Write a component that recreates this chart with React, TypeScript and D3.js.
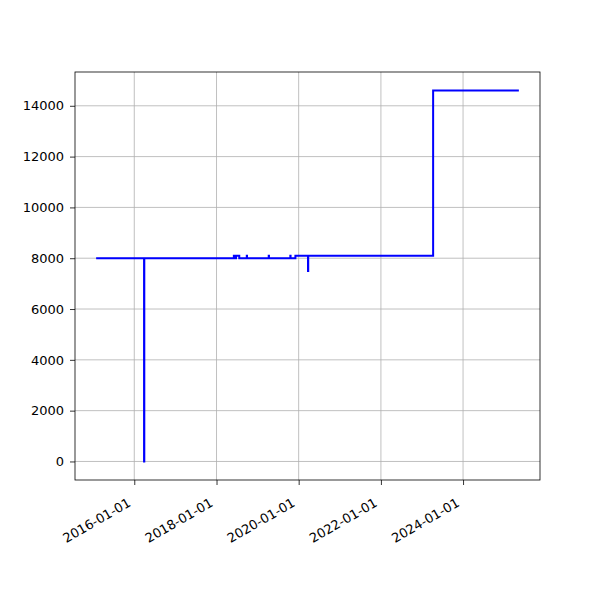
import React, { useEffect, useRef } from 'react';
import * as d3 from 'd3';

// step series (value holds until the next date)
const stepDates = [
  '2015-01-27', '2016-03-28', '2016-03-30',
  '2018-06-04', '2018-06-20', '2018-06-23', '2018-07-22',
  '2018-09-27', '2018-09-29', '2019-04-10', '2019-04-12',
  '2019-10-19', '2019-10-21', '2019-12-03',
  '2020-03-24', '2020-03-26', '2023-04-10', '2025-05-11'
];
const stepValues = [
  8000, 0, 8000,
  8100, 8000, 8100, 8000,
  8100, 8000, 8100, 8000,
  8100, 8000, 8100,
  7500, 8100, 14600, 14600
];
const xTickYears = [2016, 2018, 2020, 2022, 2024];
const yTickValues = [0, 2000, 4000, 6000, 8000, 10000, 12000, 14000];

const App: React.FC = () => {
  const svgRef = useRef<SVGSVGElement>(null);

  useEffect(() => {
    if (!svgRef.current) return;
    d3.select(svgRef.current).selectAll('*').remove();

    const width = 600;
    const height = 600;
    const margin = { top: 72, right: 60, bottom: 120, left: 75 };
    const innerWidth = width - margin.left - margin.right;
    const innerHeight = height - margin.top - margin.bottom;

    const data = stepDates.map((d, i) => ({
      date: new Date(d + 'T00:00:00Z'),
      value: stepValues[i]
    }));

    // matplotlib style 5% margins
    const [tMin, tMax] = d3.extent(data, d => d.date.getTime()) as [number, number];
    const tPad = (tMax - tMin) * 0.05;
    const [vMin, vMax] = d3.extent(data, d => d.value) as [number, number];
    const vPad = (vMax - vMin) * 0.05;

    const xScale = d3.scaleUtc()
      .domain([new Date(tMin - tPad), new Date(tMax + tPad)])
      .range([0, innerWidth]);
    const yScale = d3.scaleLinear()
      .domain([vMin - vPad, vMax + vPad])
      .range([innerHeight, 0]);

    const xTicks = xTickYears.map(y => new Date(Date.UTC(y, 0, 1)));
    const fmt = d3.utcFormat('%Y-%m-%d');

    const svg = d3.select(svgRef.current)
      .attr('width', width)
      .attr('height', height)
      .append('g')
      .attr('transform', `translate(${margin.left},${margin.top})`);

    // grid
    svg.append('g')
      .selectAll('line')
      .data(xTicks)
      .enter()
      .append('line')
      .attr('x1', d => xScale(d))
      .attr('x2', d => xScale(d))
      .attr('y1', 0)
      .attr('y2', innerHeight)
      .attr('stroke', '#b0b0b0')
      .attr('stroke-width', 0.8);

    svg.append('g')
      .selectAll('line')
      .data(yTickValues)
      .enter()
      .append('line')
      .attr('x1', 0)
      .attr('x2', innerWidth)
      .attr('y1', d => yScale(d))
      .attr('y2', d => yScale(d))
      .attr('stroke', '#b0b0b0')
      .attr('stroke-width', 0.8);

    // series
    const line = d3.line<{ date: Date; value: number }>()
      .x(d => xScale(d.date))
      .y(d => yScale(d.value))
      .curve(d3.curveStepAfter);

    svg.append('path')
      .datum(data)
      .attr('fill', 'none')
      .attr('stroke', '#0000ff')
      .attr('stroke-width', 2)
      .attr('d', line);

    // axes
    const xAxis = svg.append('g')
      .attr('transform', `translate(0,${innerHeight})`)
      .call(d3.axisBottom(xScale)
        .tickValues(xTicks)
        .tickSize(5)
        .tickPadding(5)
        .tickFormat(d => fmt(d as Date)));
    xAxis.select('.domain').remove();
    xAxis.selectAll('line').attr('stroke', '#000').attr('stroke-width', 0.8);
    xAxis.selectAll('text')
      .attr('font-family', 'DejaVu Sans')
      .attr('font-size', '13px')
      .attr('fill', '#000')
      .attr('text-anchor', 'end')
      .attr('y', 0)
      .attr('dy', '0.75em')
      .attr('transform', 'translate(-8,17) rotate(-30)');

    const yAxis = svg.append('g')
      .call(d3.axisLeft(yScale)
        .tickValues(yTickValues)
        .tickSize(5)
        .tickPadding(6)
        .tickFormat(d => String(d)));
    yAxis.select('.domain').remove();
    yAxis.selectAll('line').attr('stroke', '#000').attr('stroke-width', 0.8);
    yAxis.selectAll('text')
      .attr('font-family', 'DejaVu Sans')
      .attr('font-size', '13px')
      .attr('fill', '#000');

    // frame
    svg.append('rect')
      .attr('width', innerWidth)
      .attr('height', innerHeight)
      .attr('fill', 'none')
      .attr('stroke', '#000')
      .attr('stroke-width', 0.8);
  }, []);

  return (
    <svg ref={svgRef} style={{ position: 'absolute', left: 0, top: 0, background: '#fff' }}></svg>
  );
};

export default App;
